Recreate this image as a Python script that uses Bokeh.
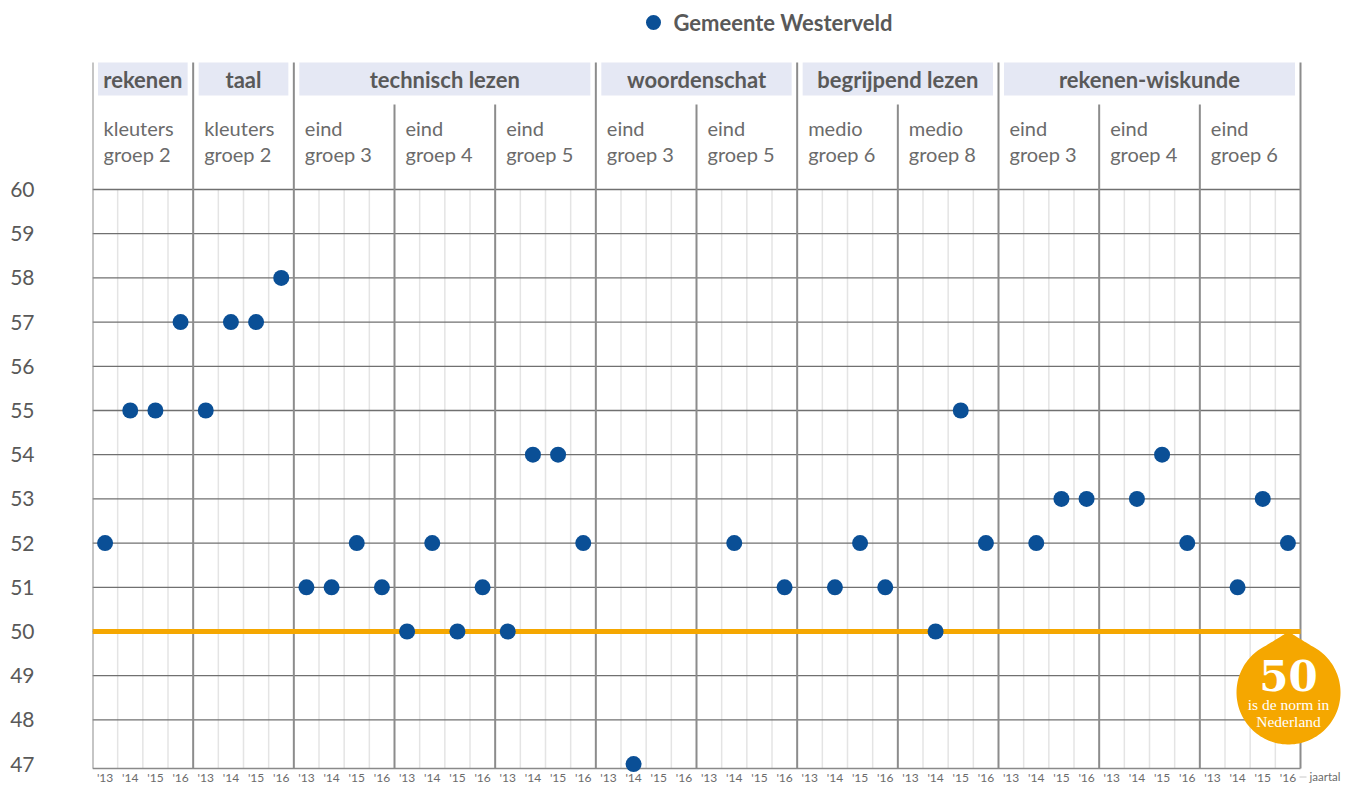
import numpy as np
from bokeh.plotting import figure
from bokeh.models import Range1d, FixedTicker
from bokeh.core.properties import value
from bokeh.embed import file_html
from bokeh.resources import INLINE

# ---------------- data ----------------
series_name = "Gemeente Westerveld"
categories = ["rekenen", "taal", "technisch lezen", "woordenschat",
              "begrijpend lezen", "rekenen-wiskunde"]
category_span = [1, 1, 3, 2, 2, 3]  # number of groups per category
group_line1 = ["kleuters", "kleuters", "eind", "eind", "eind", "eind",
               "eind", "medio", "medio", "eind", "eind", "eind"]
group_line2 = ["groep 2", "groep 2", "groep 3", "groep 4", "groep 5", "groep 3",
               "groep 5", "groep 6", "groep 8", "groep 3", "groep 4", "groep 6"]
years = ["'13", "'14", "'15", "'16"]

v_rekenen_kl2 = [52, 55, 55, 57]
v_taal_kl2 = [55, 57, 57, 58]
v_tl_g3 = [51, 51, 52, 51]
v_tl_g4 = [50, 52, 50, 51]
v_tl_g5 = [50, 54, 54, 52]
v_ws_g3 = [None, 47, None, None]
v_ws_g5 = [None, 52, None, 51]
v_bl_g6 = [None, 51, 52, 51]
v_bl_g8 = [None, 50, 55, 52]
v_rw_g3 = [None, 52, 53, 53]
v_rw_g4 = [None, 53, 54, 52]
v_rw_g6 = [None, 51, 53, 52]
group_values = [v_rekenen_kl2, v_taal_kl2, v_tl_g3, v_tl_g4, v_tl_g5, v_ws_g3,
                v_ws_g5, v_bl_g6, v_bl_g8, v_rw_g3, v_rw_g4, v_rw_g6]

norm = 50
y_ticks = list(range(47, 61))
y_floor = 46.9

# ---------------- layout ----------------
W, H = 1341, 785
LEFT = 92
NSLOT = len(group_values) * len(years)
SLOT = 1208 / NSLOT
Y60 = 189            # figure px of the 60 line
Y_FLOOR = 768        # figure px of the bottom line
UNIT = (Y_FLOOR - Y60) / (60 - y_floor)

def fx(px):
    return (px - LEFT) / SLOT

def fy(py):
    return 60 - (py - Y60) / UNIT

BLUE = "#0a4f96"
ORANGE = "#f5a700"
TXT = "#595959"
SUB = "#6b6b6b"
FONT = value("Lato")

p = figure(width=W, height=H, x_range=Range1d(0, fx(W)), y_range=Range1d(fy(H), fy(0)),
           output_backend="svg", toolbar_location=None, x_axis_type=None,
           min_border_left=LEFT, min_border_right=0, min_border_top=0, min_border_bottom=0)
p.outline_line_color = None
p.grid.visible = False
p.background_fill_color = "white"

ax = p.yaxis[0]
ax.ticker = FixedTicker(ticks=y_ticks)
ax.axis_line_color = None
ax.major_tick_line_color = None
ax.minor_tick_line_color = None
ax.major_label_standoff = 52
ax.major_label_text_font = "Lato"
ax.major_label_text_font_size = "21px"
ax.major_label_text_color = TXT

ngroups = len(group_values)
nyears = len(years)

# category header bands
starts = np.cumsum([0] + category_span[:-1])
ends = np.cumsum(category_span)
inset = 5.5 / SLOT
p.quad(left=starts * nyears + inset, right=ends * nyears - inset,
       top=fy(62), bottom=fy(95), fill_color="#e5e8f4", line_color=None)
p.text(x=(starts + ends) / 2 * nyears, y=[fy(79)] * len(categories), text=categories,
       text_align="center", text_baseline="middle", text_font=FONT,
       text_font_style="bold", text_font_size="22px", text_color=TXT)

# group labels
gx = np.arange(ngroups) * nyears
p.text(x=gx, y=[fy(127)] * ngroups, text=group_line1, x_offset=11,
       text_align="left", text_baseline="middle", text_font=FONT,
       text_font_size="20px", text_color=SUB)
p.text(x=gx, y=[fy(153)] * ngroups, text=group_line2, x_offset=11,
       text_align="left", text_baseline="middle", text_font=FONT,
       text_font_size="20px", text_color=SUB)

# minor vertical lines (between years)
minor_x = [k for k in range(1, NSLOT) if k % nyears != 0]
p.segment(x0=minor_x, x1=minor_x, y0=[60] * len(minor_x), y1=[y_floor] * len(minor_x),
          line_color="#e4e4e4", line_width=1.5)

# horizontal grid lines
hy = [t for t in y_ticks if t > y_ticks[0]]
p.segment(x0=[0] * len(hy), x1=[NSLOT] * len(hy), y0=hy, y1=hy,
          line_color="#707070", line_width=1.3)
p.segment(x0=[0], x1=[NSLOT], y0=[y_floor], y1=[y_floor],
          line_color="#8a8a8a", line_width=1.5)

# panel boundaries
cat_bounds = set((list(starts) + [ends[-1]]))
bx = np.arange(ngroups + 1) * nyears
btop = [fy(62) if (i in cat_bounds) else fy(104) for i in range(ngroups + 1)]
p.segment(x0=bx, x1=bx, y0=btop, y1=[y_floor] * len(bx),
          line_color="#8c8c8c", line_width=2)

# norm line
p.segment(x0=[0], x1=[NSLOT], y0=[norm], y1=[norm], line_color=ORANGE, line_width=5)

# data points
px_, py_ = [], []
for g, vals in enumerate(group_values):
    for s, v in enumerate(vals):
        if v is not None:
            px_.append(g * nyears + s + 0.5)
            py_.append(v)
p.scatter(px_, py_, size=16, fill_color=BLUE, line_color=None)

# year labels
yx = np.arange(NSLOT) + 0.5
ylab = years * ngroups
p.text(x=yx, y=[fy(Y_FLOOR + 1.5)] * NSLOT, text=ylab, text_align="center", text_baseline="top",
       text_font=FONT, text_font_size="12px", text_color=SUB)
p.segment(x0=[fx(1299)], x1=[fx(1306)], y0=[fy(Y_FLOOR + 8.5)], y1=[fy(Y_FLOOR + 8.5)],
          line_color="#c8c8c8", line_width=1)
p.text(x=[fx(1340)], y=[fy(Y_FLOOR + 1.5)], text=["jaartal"], text_align="right", text_baseline="top",
       text_font=FONT, text_font_size="11.5px", text_color=SUB)

# legend
p.scatter([fx(653)], [fy(22)], size=15, fill_color=BLUE, line_color=None)
p.text(x=[fx(673)], y=[fy(22)], text=[series_name], text_align="left", text_baseline="middle",
       text_font=FONT, text_font_style="bold", text_font_size="22px", text_color=TXT)

# norm badge (kept inside the canvas)
r = 52
cx = W - r - 1
tip_sy = Y60 + (60 - norm) * UNIT
tip_sx = cx
cy = tip_sy + 61
t0 = 0.45
jx, jy = cx + r * np.sin(t0), cy - r * np.cos(t0)
ctrl = (cx + 6, cy - 57)
tb = np.linspace(0, 1, 20)
rbx = (1 - tb) ** 2 * tip_sx + 2 * (1 - tb) * tb * ctrl[0] + tb ** 2 * jx
rby = (1 - tb) ** 2 * tip_sy + 2 * (1 - tb) * tb * ctrl[1] + tb ** 2 * jy
ta = np.linspace(t0, 2 * np.pi - t0, 120)
arcx = cx + r * np.sin(ta)
arcy = cy - r * np.cos(ta)
lbx = 2 * cx - rbx[::-1]
lby = rby[::-1]
bxs = np.concatenate([rbx, arcx, lbx])
bys = np.concatenate([rby, arcy, lby])
p.patch(fx(bxs), fy(bys), fill_color=ORANGE, line_color=None)
p.text(x=[fx(cx)], y=[fy(cy - 17)], text=[str(norm)], text_align="center", text_baseline="middle",
       text_font=value("DejaVu Serif"), text_font_style="bold", text_font_size="42px",
       text_color="white")
p.text(x=[fx(cx)] * 2, y=[fy(cy + 12), fy(cy + 29)], text=["is de norm in", "Nederland"],
       text_align="center", text_baseline="middle", text_font=value("Liberation Serif"),
       text_font_size="15.5px", text_color="white")

open("out.html", "w").write(file_html(p, INLINE))
